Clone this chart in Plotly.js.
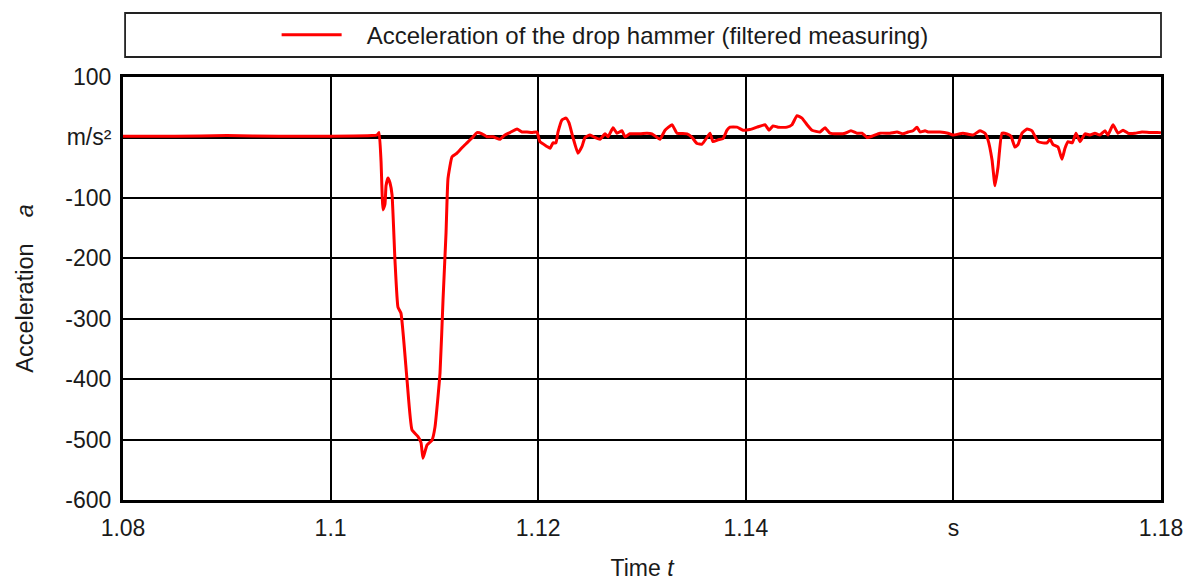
<!DOCTYPE html>
<html>
<head>
<meta charset="utf-8">
<script src="https://cdn.plot.ly/plotly-3.0.1.min.js"></script>
<style>html,body{margin:0;padding:0;background:#fff;}#chart{width:1190px;height:581px;}</style>
</head>
<body>
<div id="chart"></div>
<script>
// Time in s
const time = [
1.0800,1.0850,1.0900,1.0950,1.1000,1.1040,1.10447,1.10467,1.10486,1.10505,1.10524,1.10534,1.10553,1.10572,1.10592,
1.10620,1.10649,1.10678,1.10736,1.10784,1.10842,1.10871,1.10890,1.10929,1.10977,1.11006,1.11054,1.11083,1.11112,1.11131,
1.11170,1.11218,1.11266,1.11314,1.11362,1.11410,1.11459,1.11507,1.11565,1.11632,1.11680,1.11728,1.11796,1.11844,1.11892,
1.11940,1.11988,1.12017,1.12085,1.12114,1.12143,1.12171,1.12191,1.12229,1.12268,1.12297,1.12335,1.12383,1.12422,1.12451,
1.12499,1.12547,1.12595,1.12644,1.12673,1.12721,1.12759,1.12807,1.12836,1.12884,1.12981,1.13048,1.13096,1.13173,1.13222,
1.13289,1.13337,1.13434,1.13482,1.13530,1.13578,1.13626,1.13655,1.13684,1.13732,1.13780,1.13819,1.13848,1.13915,1.13973,
1.14040,1.14108,1.14185,1.14224,1.14262,1.14310,1.14397,1.14445,1.14493,1.14541,1.14590,1.14638,1.14715,1.14763,1.14811,
1.14908,1.14956,1.15013,1.15071,1.15119,1.15168,1.15216,1.15293,1.15389,1.15457,1.15514,1.15563,1.15611,1.15649,1.15678,
1.15726,1.15755,1.15871,1.15948,1.15996,1.16092,1.16189,1.16256,1.16304,1.16333,1.16372,1.16401,1.16430,1.16468,1.16516,
1.16555,1.16593,1.16622,1.16661,1.16709,1.16757,1.16815,1.16863,1.16902,1.16931,1.16960,1.17008,1.17046,1.17075,1.17104,
1.17146,1.17181,1.17220,1.17268,1.17316,1.17364,1.17412,1.17460,1.17489,1.17538,1.17586,1.17634,1.17682,1.17750,1.17817,
1.17894,1.17990,1.1800
];
// Acceleration in m/s²
const accel = [
2,2,3,2,2,3,4,8,-40,-120,-110,-80,-67,-75,-95,
-203,-281,-291,-401,-484,-495,-505,-531,-509,-501,-479,-390,-269,-158,-68,
-32,-26,-17,-9,-1,8,6,1,1,-3,4,8,14,9,9,
8,9,-7,-15,-18,-9,-9,9,29,32,24,0,-26,-15,0,
4,0,-3,6,1,16,7,11,1,6,6,7,6,-3,12,
21,7,6,0,-10,-11,0,7,-7,-4,-2,12,17,17,12,
13,17,21,12,19,17,17,21,36,32,21,12,9,16,7,
6,7,11,7,7,0,2,7,7,9,6,9,11,17,9,
11,9,9,7,4,7,4,11,7,-4,-37,-80,-49,7,6,
2,-16,-12,7,14,11,-7,-9,-9,-3,-12,-16,-36,-18,-7,
-9,7,-7,6,4,7,4,11,4,21,7,12,7,7,9,
8,8,7
];
const seriesName = 'Acceleration of the drop hammer (filtered measuring)';
const xTickVals = [1.08,1.10,1.12,1.14,1.16,1.18];
const xTickText = ['1.08','1.1','1.12','1.14','s','1.18'];
const yTickVals = [100,0,-100,-200,-300,-400,-500,-600];
const yTickText = ['100','m/s²','-100','-200','-300','-400','-500','-600'];

const FONT = 'Liberation Sans, Arial, sans-serif';
const TXT = '#1a1a1a';
const trace = {
  x: time, y: accel, type: 'scatter', mode: 'lines', name: '\u00a0\u00a0\u00a0' + seriesName,
  line: {color: '#ff0000', width: 3, shape: 'spline', smoothing: 0.4},
  showlegend: true
};
const layout = {
  width: 1190, height: 581,
  margin: {l: 123, r: 29, t: 77, b: 81},
  paper_bgcolor: '#ffffff', plot_bgcolor: '#ffffff',
  font: {family: FONT, size: 23, color: TXT},
  showlegend: true,
  legend: {
    x: 0.148, y: 1.099, xanchor: 'left', yanchor: 'middle',
    orientation: 'h', bgcolor: 'rgba(0,0,0,0)', borderwidth: 0,
    font: {family: FONT, size: 24, color: TXT}, itemwidth: 60
  },
  xaxis: {
    range: [1.08, 1.18], tickmode: 'array', tickvals: xTickVals, ticktext: xTickText,
    showgrid: true, gridcolor: '#000', gridwidth: 2, zeroline: false,
    showline: true, linecolor: '#000', linewidth: 3, mirror: true,
    ticks: '', ticklabelstandoff: 5,
    tickfont: {family: FONT, size: 23, color: TXT},
    title: {text: 'Time <i>t</i>', standoff: 28, font: {family: FONT, size: 23, color: TXT}}
  },
  yaxis: {
    range: [-600, 100], tickmode: 'array', tickvals: yTickVals, ticktext: yTickText,
    showgrid: true, gridcolor: '#000', gridwidth: 2,
    zeroline: true, zerolinecolor: '#000', zerolinewidth: 4,
    showline: true, linecolor: '#000', linewidth: 3, mirror: true,
    ticks: '', ticklabelstandoff: 4,
    tickfont: {family: FONT, size: 23, color: TXT},
    title: {text: 'Acceleration\u00a0\u00a0\u00a0 <i>a</i>', standoff: 26, font: {family: FONT, size: 23.5, color: TXT}}
  },
  shapes: [{
    type: 'rect', xref: 'paper', yref: 'paper',
    x0: 0.002, x1: 1.0, y0: 1.0473, y1: 1.1513,
    line: {color: '#222', width: 1.8}, fillcolor: 'rgba(0,0,0,0)', layer: 'below'
  }]
};
Plotly.newPlot('chart', [trace], layout, {displayModeBar: false, staticPlot: true});
</script>
</body>
</html>
